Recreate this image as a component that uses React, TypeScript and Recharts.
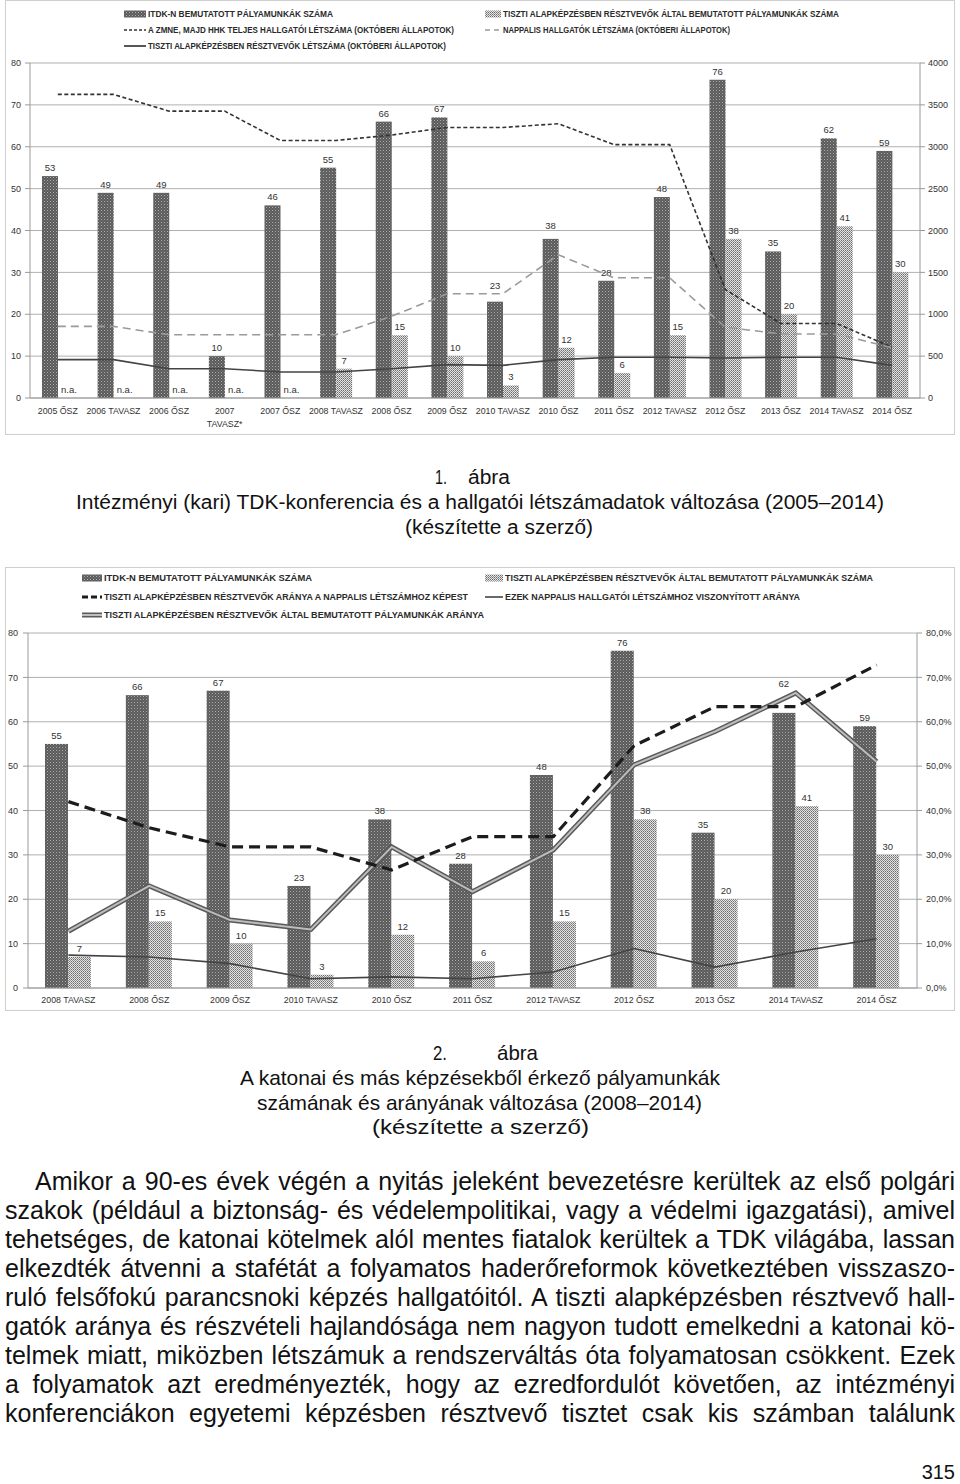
import React from "react";
import { Bar, CartesianGrid, ComposedChart, Line, XAxis, YAxis } from "recharts";

// ---- 1. ábra data ----
const cats1 = [
  "2005 ŐSZ", "2006 TAVASZ", "2006 ŐSZ", "2007\nTAVASZ*", "2007 ŐSZ", "2008 TAVASZ",
  "2008 ŐSZ", "2009 ŐSZ", "2010 TAVASZ", "2010 ŐSZ", "2011 ŐSZ", "2012 TAVASZ",
  "2012 ŐSZ", "2013 ŐSZ", "2014 TAVASZ", "2014 ŐSZ",
];
const itdk1 = [53, 49, 49, 10, 46, 55, 66, 67, 23, 38, 28, 48, 76, 35, 62, 59];
const tiszti1: (number | null)[] = [null, null, null, null, null, 7, 15, 10, 3, 12, 6, 15, 38, 20, 41, 30];
const zmne1 = [3625, 3625, 3425, 3425, 3075, 3075, 3140, 3230, 3230, 3275, 3025, 3025, 1295, 890, 890, 605];
const nappali1 = [855, 855, 755, 755, 755, 755, 975, 1245, 1245, 1710, 1435, 1435, 845, 765, 765, 600];
const letszam1 = [458, 458, 350, 350, 310, 310, 350, 398, 390, 458, 486, 486, 478, 486, 486, 390];
const lift1 = [0, 0, 0, 0, 0, 0, 0, 0, 8, 5, 0, 0, 0, 0, 0, 0];
const leftTicks = [0, 10, 20, 30, 40, 50, 60, 70, 80];
const rightTicks1 = [0, 500, 1000, 1500, 2000, 2500, 3000, 3500, 4000];

// ---- 2. ábra data ----
const cats2 = [
  "2008 TAVASZ", "2008 ŐSZ", "2009 ŐSZ", "2010 TAVASZ", "2010 ŐSZ", "2011 ŐSZ",
  "2012 TAVASZ", "2012 ŐSZ", "2013 ŐSZ", "2014 TAVASZ", "2014 ŐSZ",
];
const itdk2 = [55, 66, 67, 23, 38, 28, 48, 76, 35, 62, 59];
const tiszti2 = [7, 15, 10, 3, 12, 6, 15, 38, 20, 41, 30];
const aranyNappali2 = [42.0, 36.1, 31.8, 31.8, 26.6, 34.1, 34.1, 54.6, 63.4, 63.4, 72.8];
const aranyMunka2 = [12.8, 23.0, 15.3, 13.2, 31.8, 21.7, 31.1, 50.3, 57.8, 66.5, 51.0];
const viszony2 = [7.4, 7.0, 5.5, 2.1, 2.5, 2.1, 3.6, 8.9, 4.7, 8.1, 11.1];
const lift2 = [0, 0, 0, 0, 0, 0, 0, 0, 0, 21, 0];

const edges1 = cats1.map((_, i) => i).concat(cats1.length);
const edges2 = cats2.map((_, i) => i).concat(cats2.length);

const rows1 = cats1.map((cat, i) => ({
  cat, itdk: itdk1[i], tiszti: tiszti1[i], zmne: zmne1[i], nappali: nappali1[i], letszam: letszam1[i],
  na: tiszti1[i] == null, lift: lift1[i],
}));
const rows2 = cats2.map((cat, i) => ({
  cat, itdk: itdk2[i], tiszti: tiszti2[i], aranyN: aranyNappali2[i], aranyM: aranyMunka2[i], visz: viszony2[i],
  na: false, lift: lift2[i],
}));

const bodyLines = [
  "Amikor a 90-es évek végén a nyitás jeleként bevezetésre kerültek az első polgári",
  "szakok (például a biztonság- és védelempolitikai, vagy a védelmi igazgatási), amivel",
  "tehetséges, de katonai kötelmek alól mentes fiatalok kerültek a TDK világába, lassan",
  "elkezdték átvenni a stafétát a folyamatos haderőreformok következtében visszaszo-",
  "ruló felsőfokú parancsnoki képzés hallgatóitól. A tiszti alapképzésben résztvevő hall-",
  "gatók aránya és részvételi hajlandósága nem nagyon tudott emelkedni a katonai kö-",
  "telmek miatt, miközben létszámuk a rendszerváltás óta folyamatosan csökkent. Ezek",
  "a folyamatok azt eredményezték, hogy az ezredfordulót követően, az intézményi",
  "konferenciákon egyetemi képzésben résztvevő tisztet csak kis számban találunk",
];

const FONT = "'Liberation Sans', Arial, sans-serif";
const AXIS = "#9a9a9a";
const TXT = "#333";

// draws the patterned bar plus its value label (and "n.a." where the second series is missing)
const barShape = (fill: string, key: string, withNa = false, useLift = false) => (props: any) => {
  const { x, y, width, height, payload } = props;
  const v = payload?.[key];
  const lift = useLift ? payload?.lift || 0 : 0;
  return (
    <g>
      {v != null && height > 0 && <rect x={x} y={y} width={width} height={height} fill={fill} />}
      {v != null && (
        <text x={x + width / 2} y={y - 5 - lift} textAnchor="middle" fontSize={9.5} fill={TXT} fontFamily={FONT}>
          {v}
        </text>
      )}
      {withNa && payload?.na && (
        <text x={x + width * 1.5 + 3} y={y + height - 5} textAnchor="middle" fontSize={9.5} fill={TXT} fontFamily={FONT}>
          n.a.
        </text>
      )}
    </g>
  );
};

const xTick = (dy: number) => (props: any) => {
  const { x, y, payload } = props;
  const parts = String(payload.value).split("\n");
  return (
    <text x={x} y={y + dy} textAnchor="middle" fontSize={8.8} fill={TXT} fontFamily={FONT}>
      {parts.map((p, i) => (
        <tspan key={i} x={x} dy={i === 0 ? 0 : 13}>
          {p}
        </tspan>
      ))}
    </text>
  );
};

const pct = (v: number) => `${v.toFixed(1).replace(".", ",")}%`;

function LegendText({ x, y, w, children }: { x: number; y: number; w: number; children: string }) {
  return (
    <text x={x} y={y + 3.3} fontSize={9.5} fontWeight={600} fill="#2a2a2a" fontFamily={FONT} textLength={w} lengthAdjust="spacingAndGlyphs">
      {children}
    </text>
  );
}

function Cap({ x, y, w, size, children }: { x: number; y: number; w: number; size: number; children: string }) {
  return (
    <text x={x} y={y} fontSize={size} fill="#111" fontFamily={FONT} textLength={w} lengthAdjust="spacingAndGlyphs">
      {children}
    </text>
  );
}

export default function App() {
  return (
    <div style={{ position: "absolute", left: 0, top: 0, width: 960, height: 1484, background: "#fff", fontFamily: FONT }}>
      <svg width={0} height={0} style={{ position: "absolute" }}>
        <defs>
          <pattern id="pDark" width="3" height="3" patternUnits="userSpaceOnUse">
            <rect width="3" height="3" fill="#5a5a5a" />
            <rect x="0" y="0" width="1" height="1" fill="#b0b0b0" />
            <rect x="1.5" y="1.5" width="1" height="1" fill="#8e8e8e" />
          </pattern>
          <pattern id="pLight" width="2" height="2" patternUnits="userSpaceOnUse">
            <rect width="2" height="2" fill="#e4e4e4" />
            <rect width="1" height="1" fill="#6c6c6c" />
            <rect x="1" y="1" width="1" height="1" fill="#909090" />
          </pattern>
        </defs>
      </svg>

      {/* 1. ábra */}
      <div style={{ position: "absolute", left: 5, top: 0, width: 948, height: 433, border: "1px solid #cfcfcf" }} />
      <div style={{ position: "absolute", left: 5, top: 0 }}>
        <ComposedChart width={950} height={435} data={rows1} margin={{ top: 63, right: 0, bottom: 0, left: 0 }} barGap={0}>
          <CartesianGrid vertical={false} stroke="#b0b0b0" yAxisId="left" xAxisId="cat" />
          <XAxis xAxisId="edge" type="number" domain={[0, cats1.length]} ticks={edges1} tick={false} axisLine={false}
            tickLine={{ stroke: AXIS }} tickSize={4} height={0} allowDataOverflow />
          <XAxis xAxisId="cat" dataKey="cat" interval={0} height={37} tickSize={0} tickMargin={0} tickLine={false}
            axisLine={{ stroke: AXIS }} tick={xTick(16)} />
          <YAxis yAxisId="left" domain={[0, 80]} ticks={leftTicks} width={25} tickSize={5} tickMargin={4}
            axisLine={{ stroke: AXIS }} tickLine={{ stroke: AXIS }} tick={{ fontSize: 9, fill: TXT, fontFamily: FONT }} />
          <YAxis yAxisId="right" orientation="right" domain={[0, 4000]} ticks={rightTicks1} width={35} tickSize={5} tickMargin={3}
            axisLine={{ stroke: AXIS }} tickLine={{ stroke: AXIS }} tick={{ fontSize: 9, fill: TXT, fontFamily: FONT, textAnchor: "start" }} />
          <Bar xAxisId="cat" yAxisId="left" dataKey="itdk" barSize={16} isAnimationActive={false}
            shape={barShape("url(#pDark)", "itdk", true, true)} />
          <Bar xAxisId="cat" yAxisId="left" dataKey="tiszti" barSize={16} isAnimationActive={false}
            shape={barShape("url(#pLight)", "tiszti")} />
          <Line xAxisId="cat" yAxisId="right" dataKey="zmne" stroke="#333" strokeWidth={1.6} strokeDasharray="4 2.5"
            dot={false} isAnimationActive={false} />
          <Line xAxisId="cat" yAxisId="right" dataKey="nappali" stroke="#9a9a9a" strokeWidth={1.6} strokeDasharray="8 5"
            dot={false} isAnimationActive={false} />
          <Line xAxisId="cat" yAxisId="right" dataKey="letszam" stroke="#444" strokeWidth={1.6}
            dot={false} isAnimationActive={false} />
        </ComposedChart>
      </div>
      <svg width={960} height={60} style={{ position: "absolute", left: 0, top: 0 }}>
        <rect x={124} y={10.5} width={22} height={7} fill="url(#pDark)" />
        <LegendText x={148} y={14} w={185}>ITDK-N BEMUTATOTT PÁLYAMUNKÁK SZÁMA</LegendText>
        <line x1={124} x2={146} y1={30} y2={30} stroke="#333" strokeWidth={1.6} strokeDasharray="3 2" />
        <LegendText x={148} y={30} w={306}>A ZMNE, MAJD HHK TELJES HALLGATÓI LÉTSZÁMA (OKTÓBERI ÁLLAPOTOK)</LegendText>
        <line x1={124} x2={146} y1={46} y2={46} stroke="#444" strokeWidth={1.8} />
        <LegendText x={148} y={46} w={298}>TISZTI ALAPKÉPZÉSBEN RÉSZTVEVŐK LÉTSZÁMA  (OKTÓBERI ÁLLAPOTOK)</LegendText>
        <rect x={485} y={10.5} width={16} height={7} fill="url(#pLight)" />
        <LegendText x={503} y={14} w={336}>TISZTI ALAPKÉPZÉSBEN RÉSZTVEVŐK ÁLTAL BEMUTATOTT PÁLYAMUNKÁK SZÁMA</LegendText>
        <line x1={485} x2={499} y1={30} y2={30} stroke="#999" strokeWidth={1.6} strokeDasharray="5 4" />
        <LegendText x={503} y={30} w={227}>NAPPALIS HALLGATÓK LÉTSZÁMA (OKTÓBERI ÁLLAPOTOK)</LegendText>
      </svg>

      {/* 2. ábra */}
      <div style={{ position: "absolute", left: 5, top: 567, width: 948, height: 442, border: "1px solid #cfcfcf" }} />
      <div style={{ position: "absolute", left: 5, top: 567 }}>
        <ComposedChart width={950} height={444} data={rows2} margin={{ top: 66, right: 0, bottom: 0, left: 0 }} barGap={0}>
          <CartesianGrid vertical={false} stroke="#b0b0b0" yAxisId="left" xAxisId="cat" />
          <XAxis xAxisId="edge" type="number" domain={[0, cats2.length]} ticks={edges2} tick={false} axisLine={false}
            tickLine={{ stroke: AXIS }} tickSize={4} height={0} allowDataOverflow />
          <XAxis xAxisId="cat" dataKey="cat" interval={0} height={23} tickSize={0} tickMargin={0} tickLine={false}
            axisLine={{ stroke: AXIS }} tick={xTick(15)} />
          <YAxis yAxisId="left" domain={[0, 80]} ticks={leftTicks} width={23} tickSize={5} tickMargin={5}
            axisLine={{ stroke: AXIS }} tickLine={{ stroke: AXIS }} tick={{ fontSize: 9, fill: TXT, fontFamily: FONT }} />
          <YAxis yAxisId="right" orientation="right" domain={[0, 80]} ticks={leftTicks} width={38} tickSize={5} tickMargin={4}
            tickFormatter={pct} axisLine={{ stroke: AXIS }} tickLine={{ stroke: AXIS }}
            tick={{ fontSize: 9, fill: TXT, fontFamily: FONT, textAnchor: "start" }} />
          <Bar xAxisId="cat" yAxisId="left" dataKey="itdk" barSize={23} isAnimationActive={false}
            shape={barShape("url(#pDark)", "itdk", false, true)} />
          <Bar xAxisId="cat" yAxisId="left" dataKey="tiszti" barSize={23} isAnimationActive={false}
            shape={barShape("url(#pLight)", "tiszti")} />
          <Line xAxisId="cat" yAxisId="right" dataKey="visz" stroke="#444" strokeWidth={1.6}
            dot={false} isAnimationActive={false} />
          <Line xAxisId="cat" yAxisId="right" dataKey="aranyM" stroke="#5a5a5a" strokeWidth={5}
            dot={false} isAnimationActive={false} />
          <Line xAxisId="cat" yAxisId="right" dataKey="aranyM" stroke="#bdbdbd" strokeWidth={2}
            dot={false} isAnimationActive={false} />
          <Line xAxisId="cat" yAxisId="right" dataKey="aranyN" stroke="#1c1c1c" strokeWidth={3.2} strokeDasharray="11 6"
            dot={false} isAnimationActive={false} />
        </ComposedChart>
      </div>
      <svg width={960} height={60} style={{ position: "absolute", left: 0, top: 567 }}>
        <rect x={82} y={7.5} width={20} height={7} fill="url(#pDark)" />
        <LegendText x={104} y={11} w={208}>ITDK-N BEMUTATOTT PÁLYAMUNKÁK SZÁMA</LegendText>
        <line x1={82} x2={102} y1={30} y2={30} stroke="#1c1c1c" strokeWidth={3} strokeDasharray="6 3" />
        <LegendText x={104} y={30} w={364}>TISZTI ALAPKÉPZÉSBEN RÉSZTVEVŐK ARÁNYA A NAPPALIS LÉTSZÁMHOZ KÉPEST</LegendText>
        <line x1={82} x2={102} y1={48} y2={48} stroke="#5a5a5a" strokeWidth={5} />
        <line x1={82} x2={102} y1={48} y2={48} stroke="#bdbdbd" strokeWidth={2} />
        <LegendText x={104} y={48} w={380}>TISZTI ALAPKÉPZÉSBEN RÉSZTVEVŐK ÁLTAL BEMUTATOTT PÁLYAMUNKÁK ARÁNYA</LegendText>
        <rect x={485} y={7.5} width={18} height={7} fill="url(#pLight)" />
        <LegendText x={505} y={11} w={368}>TISZTI ALAPKÉPZÉSBEN RÉSZTVEVŐK ÁLTAL BEMUTATOTT PÁLYAMUNKÁK SZÁMA</LegendText>
        <line x1={485} x2={503} y1={30} y2={30} stroke="#444" strokeWidth={1.6} />
        <LegendText x={505} y={30} w={295}>EZEK NAPPALIS HALLGATÓI LÉTSZÁMHOZ VISZONYÍTOTT ARÁNYA</LegendText>
      </svg>

      {/* captions */}
      <svg width={960} height={1484} style={{ position: "absolute", left: 0, top: 0, pointerEvents: "none" }}>
        <Cap x={435} y={484} w={12} size={20}>1.</Cap>
        <Cap x={468} y={484} w={42} size={20}>ábra</Cap>
        <Cap x={76} y={509} w={808} size={20}>Intézményi (kari) TDK-konferencia és a hallgatói létszámadatok változása (2005–2014)</Cap>
        <Cap x={405} y={534} w={188} size={20}>(készítette a szerző)</Cap>

        <Cap x={433} y={1060} w={14} size={21}>2.</Cap>
        <Cap x={497} y={1060} w={41} size={21}>ábra</Cap>
        <Cap x={240} y={1085} w={480} size={21}>A katonai és más képzésekből érkező pályamunkák</Cap>
        <Cap x={257} y={1110} w={445} size={21}>számának és arányának változása (2008–2014)</Cap>
        <Cap x={372} y={1134} w={217} size={21}>(készítette a szerző)</Cap>

        <text x={955} y={1479} textAnchor="end" fontSize={20} fill="#111" fontFamily={FONT}>315</text>
      </svg>

      {bodyLines.map((t, i) => (
        <div
          key={i}
          style={{
            position: "absolute",
            left: i === 0 ? 35 : 5,
            top: 1181 - 15.5 + i * 29.1,
            width: i === 0 ? 920 : 950,
            fontSize: 25,
            lineHeight: "30px",
            textAlign: "justify",
            textAlignLast: "justify",
            color: "#111",
          }}
        >
          {t}
        </div>
      ))}
    </div>
  );
}
